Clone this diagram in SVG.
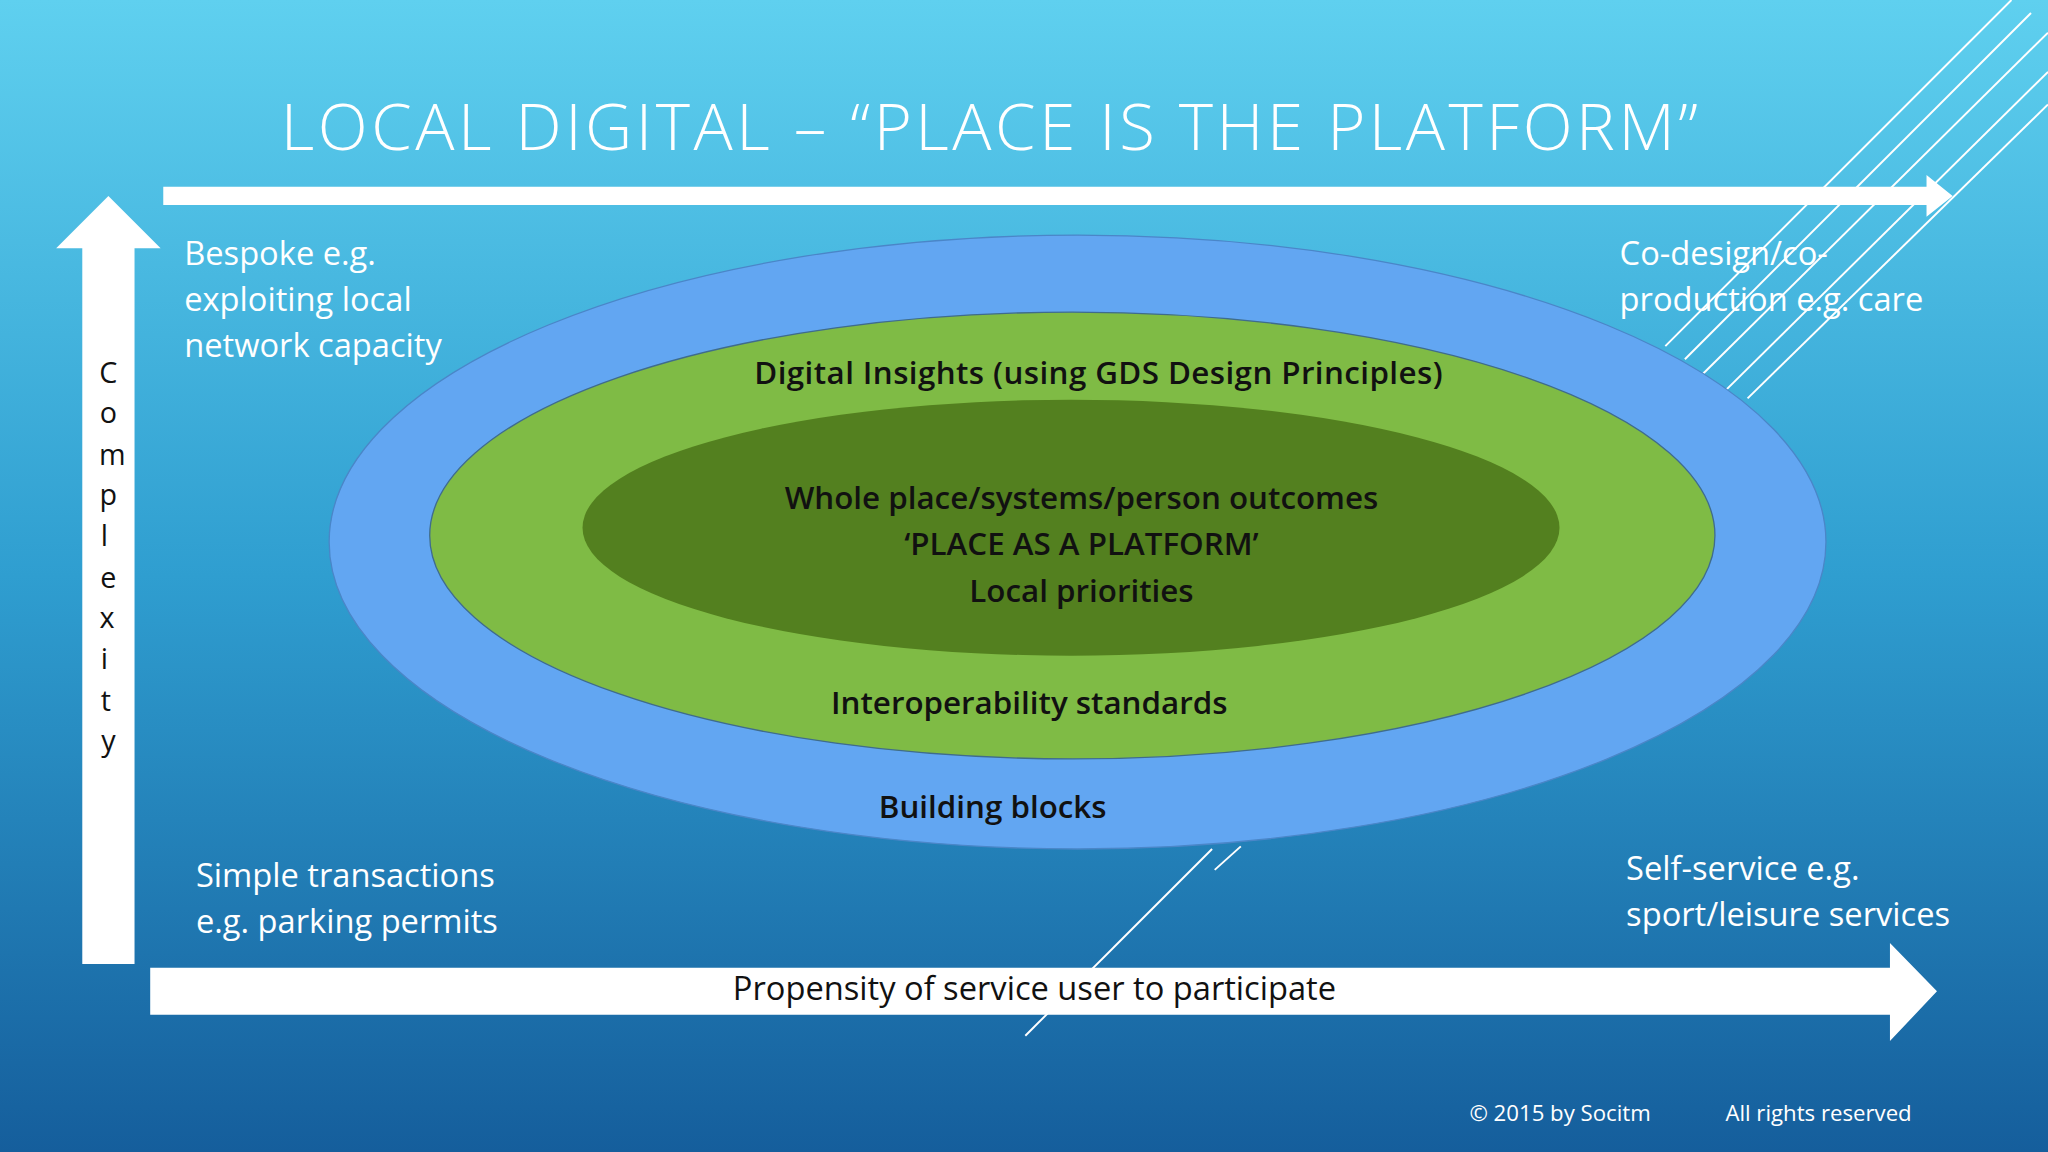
<svg xmlns="http://www.w3.org/2000/svg" width="2048" height="1152" viewBox="0 0 2048 1152">
<defs>
<linearGradient id="bg" x1="0" y1="0" x2="0" y2="1">
<stop offset="0" stop-color="#5fd0ef"/>
<stop offset="0.5" stop-color="#2f9ed0"/>
<stop offset="1" stop-color="#155e9c"/>
</linearGradient>
<style>
.w{fill:#fff}
.t{font-family:"Open Sans","Liberation Sans",sans-serif;font-size:25px;fill:#fff}
.d{font-family:"Open Sans","Liberation Sans",sans-serif;font-size:24px;font-weight:600;fill:#111;text-anchor:middle}
.ln{stroke:#fff;stroke-width:1.5;fill:none}
</style>
</defs>
<rect width="2048" height="1152" fill="url(#bg)"/>
<g transform="scale(1.30612)">
<g id="deco">
<line class="ln" x1="1275" y1="265" x2="1540" y2="0"/>
<line class="ln" x1="1290" y1="275" x2="1555" y2="10"/>
<line class="ln" x1="1300" y1="290" x2="1568" y2="25"/>
<line class="ln" x1="1320" y1="300" x2="1568" y2="55"/>
<line class="ln" x1="1338" y1="305" x2="1568" y2="80" stroke-width="3"/>
<line class="ln" x1="785" y1="793" x2="928" y2="650"/>
<line class="ln" x1="930" y1="666" x2="950" y2="648"/>
</g>
<text x="215" y="115" font-family="'Open Sans','Liberation Sans',sans-serif" font-weight="300" font-size="50" fill="#fff" textLength="1085">LOCAL DIGITAL – “PLACE IS THE PLATFORM”</text>
<g id="connectors">
<polygon class="w" points="125,143 1475,143 1475,134 1495,150 1475,166 1475,157 125,157"/>
<polygon class="w" points="63,738 63,190 43,190 83,150 123,190 103,190 103,738"/>
<polygon class="w" points="115,741 1447,741 1447,722 1483,759 1447,797 1447,777 115,777"/>
</g>
<g id="outer"><ellipse cx="825" cy="415" rx="573" ry="235" fill="#62a6f2" stroke="#4a86c8"/>
<text class="d" x="760" y="626">Building blocks</text></g>
<g id="middle"><ellipse cx="821" cy="410" rx="492" ry="171" fill="#7fbb45" stroke="#3f6c8c"/>
<text class="d" x="841" y="294" textLength="527">Digital Insights (using GDS Design Principles)</text>
<text class="d" x="788" y="547">Interoperability standards</text></g>
<g id="inner"><ellipse cx="820" cy="404" rx="374" ry="98" fill="#53801f"/>
<text class="d" x="828" y="390">Whole place/systems/person outcomes</text>
<text class="d" x="828" y="425">‘PLACE AS A PLATFORM’</text>
<text class="d" x="828" y="461">Local priorities</text></g>
<g id="labels">
<text class="t" x="141" y="203">Bespoke e.g.</text>
<text class="t" x="141" y="238">exploiting local</text>
<text class="t" x="141" y="273">network capacity</text>
<text class="t" x="1240" y="203">Co-design/co-</text>
<text class="t" x="1240" y="238">production e.g. care</text>
<text class="t" x="150" y="679">Simple transactions</text>
<text class="t" x="150" y="714">e.g. parking permits</text>
<text class="t" x="1245" y="674">Self-service e.g.</text>
<text class="t" x="1245" y="709">sport/leisure services</text>
<text x="792" y="766" font-family="'Open Sans','Liberation Sans',sans-serif" font-size="25" fill="#111" text-anchor="middle">Propensity of service user to participate</text>
<g font-family="'Open Sans','Liberation Sans',sans-serif" font-size="22" fill="#111" text-anchor="middle">
<text x="83" y="293">C</text><text x="83" y="324">o</text><text x="86" y="356">m</text><text x="83" y="387">p</text><text x="80" y="418">l</text><text x="83" y="450">e</text><text x="82" y="481">x</text><text x="80" y="512">i</text><text x="81" y="544">t</text><text x="83" y="575">y</text>
</g>
<text x="1125" y="858" font-family="'Open Sans','Liberation Sans',sans-serif" font-size="17" fill="#fff">© 2015 by Socitm</text>
<text x="1321" y="858" font-family="'Open Sans','Liberation Sans',sans-serif" font-size="17" fill="#fff">All rights reserved</text>
</g>
</g>
</svg>
